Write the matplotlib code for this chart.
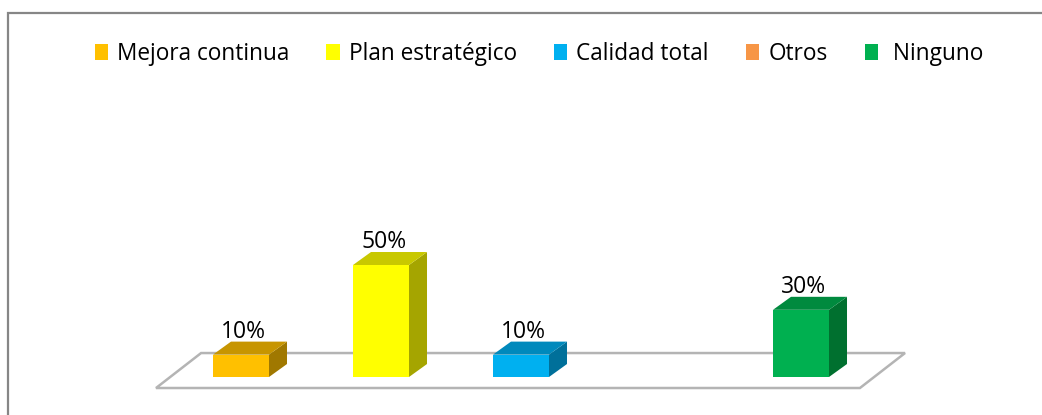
import matplotlib
matplotlib.use("Agg")
import matplotlib.pyplot as plt
from matplotlib.patches import Polygon, Rectangle, Patch

plt.rcParams["font.family"] = ["Open Sans", "DejaVu Sans"]

# Data
categories = ["Mejora continua", "Plan estratégico", "Calidad total", "Otros", "Ninguno"]
values = [10, 50, 10, 0, 30]
legend_labels = ["Mejora continua", "Plan estratégico", "Calidad total", "Otros", " Ninguno"]

# Face colours of each 3D column: front, top, side
front_colors = ["#FFC000", "#FFFF00", "#00B0F0", "#F79646", "#00B050"]
top_colors = ["#C79500", "#C8C800", "#0089BC", "#C27434", "#008A3E"]
side_colors = ["#A07800", "#A5A500", "#00709A", "#9E5E2A", "#00702F"]

# Geometry (category units horizontally, percent vertically)
bar_w = 0.40
depth_dx, depth_dy = 0.1286, 5.8
floor_front_y, floor_back_y = -4.91, 10.7
floor_left, floor_right = -0.607, 4.421
floor_dx = 0.322

fig = plt.figure(figsize=(10.42, 4.15), dpi=100)
ax = fig.add_axes([0, 0, 1, 1])
ax.set_xlim(-1.7214, 5.7214)
ax.set_ylim(-16.96, 168.3)
ax.axis("off")

# Chart frame (left and top edges visible)
frame = Rectangle((8 / 1042, -0.1), 1.2, 1 - 12.7 / 415 + 0.1, transform=fig.transFigure,
                  fill=False, edgecolor="#868686", linewidth=1.6, zorder=0)
fig.patches.append(frame)

# Floor of the 3D plot
floor = Polygon([(floor_left, floor_front_y), (floor_right, floor_front_y),
                 (floor_right + floor_dx, floor_back_y), (floor_left + floor_dx, floor_back_y)],
                closed=True, facecolor="white", edgecolor="#B4B4B4", linewidth=1.8, zorder=1)
ax.add_patch(floor)

for i, (v, fc, tc, sc) in enumerate(zip(values, front_colors, top_colors, side_colors)):
    if v <= 0:
        continue
    x0, x1 = i - bar_w / 2, i + bar_w / 2
    # side face
    ax.add_patch(Polygon([(x1, 0), (x1 + depth_dx, depth_dy), (x1 + depth_dx, v + depth_dy), (x1, v)],
                         closed=True, facecolor=sc, edgecolor="none", zorder=2))
    # top face
    ax.add_patch(Polygon([(x0, v), (x1, v), (x1 + depth_dx, v + depth_dy), (x0 + depth_dx, v + depth_dy)],
                         closed=True, facecolor=tc, edgecolor="none", zorder=2))
    # front face
    ax.add_patch(Rectangle((x0, 0), bar_w, v, facecolor=fc, edgecolor="none", zorder=3))
    ax.text(i + 0.02, v + depth_dy + 1.8, f"{v}%", ha="center", va="baseline",
            fontsize=16.5, color="black", zorder=4)

handles = [Patch(facecolor=c, edgecolor="none") for c in front_colors]
fig.legend(handles, legend_labels, loc="center", bbox_to_anchor=(539 / 1042, 1 - 54 / 415),
           ncol=5, frameon=False, handlelength=0.58, handleheight=0.68, handletextpad=0.4,
           columnspacing=1.65, fontsize=16.3)

fig.savefig("out.png", dpi=100)
